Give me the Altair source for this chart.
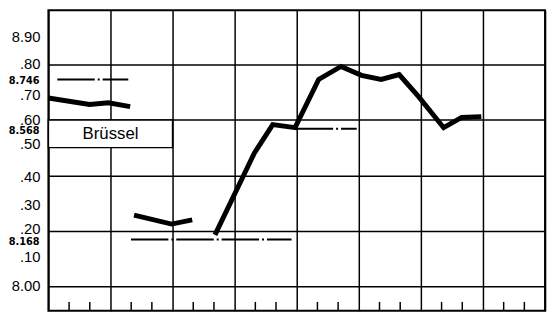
import altair as alt
import pandas as pd

# ---- data ----
seg1_month = [0.0, 1.99, 2.90, 3.95]
seg1_value = [8.679, 8.656, 8.662, 8.648]
seg2_month = [4.14, 5.95, 6.95]
seg2_value = [8.256, 8.224, 8.239]
seg3_month = [8.05, 9.95, 10.84, 11.92, 13.06, 14.14, 15.13, 16.08, 16.95, 17.90, 19.10, 19.97, 20.92]
seg3_value = [8.185, 8.480, 8.583, 8.572, 8.746, 8.793, 8.761, 8.746, 8.764, 8.683, 8.572, 8.609, 8.612]

ref_values = [8.746, 8.568, 8.168]
ref_labels = ["8.746", "8.568", "8.168"]
ref_start = [0.43, 11.95, 3.99]
ref_end = [3.86, 14.90, 11.75]

y_ticks = [8.0, 8.1, 8.2, 8.3, 8.4, 8.5, 8.6, 8.7, 8.8, 8.9]
y_tick_labels = ["8.00", ".10", ".20", ".30", ".40", ".50", ".60", ".70", ".80", "8.90"]
grid_months = [0, 3, 6, 9, 12, 15, 18, 21, 24]
minor_months = [m for m in range(1, 24) if m % 3 != 0]

box_start = [0]
box_end = [6]
box_low = [8.50]
box_high = [8.60]
box_text = ["Brüssel"]

# style: small vertical nudges (px) of some tick labels, as in the original print
label_nudge = {".70": 3, ".40": 2, ".30": 2, ".50": -4, ".20": -2, ".10": -1}

# ---- tables ----
line_df = pd.DataFrame({
    "month": seg1_month + seg2_month + seg3_month,
    "value": seg1_value + seg2_value + seg3_value,
    "seg": ["a"] * len(seg1_month) + ["b"] * len(seg2_month) + ["c"] * len(seg3_month),
})
ref_df = pd.DataFrame({"value": ref_values, "label": ref_labels, "start": ref_start, "end": ref_end})
minor_df = pd.DataFrame({"month": minor_months})
box_df = pd.DataFrame({"m0": box_start, "m1": box_end, "lo": box_low, "hi": box_high, "text": box_text})
tick_df = pd.DataFrame({"value": y_ticks, "label": y_tick_labels})
tick_df["nudge"] = [label_nudge.get(l, 0) for l in y_tick_labels]

x_scale = alt.Scale(domain=[0, 24], nice=False, zero=False)
y_scale = alt.Scale(domain=[7.911, 8.996], nice=False, zero=False)

x_enc = alt.X("month:Q", scale=x_scale,
              axis=alt.Axis(values=grid_months, grid=True, labels=False, ticks=False,
                            domain=False, title=None))
y_enc = alt.Y("value:Q", scale=y_scale,
              axis=alt.Axis(values=y_ticks, grid=True, ticks=False, domain=False, title=None,
                            labels=False))

lines = alt.Chart(line_df).mark_line(color="black", strokeWidth=5).encode(
    x=x_enc, y=y_enc, detail="seg:N"
)

refs = alt.Chart(ref_df).mark_rule(color="black", strokeWidth=2, strokeDash=[38, 3, 2, 3]).encode(
    x=alt.X("start:Q", scale=x_scale), x2="end:Q", y=alt.Y("value:Q", scale=y_scale)
)

ref_text = alt.Chart(ref_df).mark_text(
    align="right", baseline="middle", fontSize=11, fontWeight="bold", dy=2,
    font="Liberation Sans Narrow, DejaVu Sans Condensed", color="black"
).encode(x=alt.value(-9), y=alt.Y("value:Q", scale=y_scale), text="label:N")

tick_layers = []
for n in sorted(set(tick_df["nudge"])):
    tick_layers.append(
        alt.Chart(tick_df).transform_filter(f"datum.nudge == {n}").mark_text(
            align="right", baseline="middle", fontSize=15, font="Liberation Sans",
            color="black", dy=n
        ).encode(x=alt.value(-8), y=alt.Y("value:Q", scale=y_scale), text="label:N")
    )

minor = alt.Chart(minor_df).mark_rule(color="black", strokeWidth=1.5).encode(
    x=alt.X("month:Q", scale=x_scale), y=alt.value(305), y2=alt.value(296)
)

box = alt.Chart(box_df).mark_rect(fill="white", stroke="black", strokeWidth=1.5).encode(
    x=alt.X("m0:Q", scale=x_scale), x2="m1:Q", y=alt.Y("lo:Q", scale=y_scale), y2="hi:Q"
)

box_label = alt.Chart(box_df).transform_calculate(
    mx="(datum.m0 + datum.m1) / 2", my="(datum.lo + datum.hi) / 2"
).mark_text(fontSize=17, font="Liberation Sans", color="black", baseline="middle").encode(
    x=alt.X("mx:Q", scale=x_scale), y=alt.Y("my:Q", scale=y_scale), text="text:N"
)

chart = alt.layer(lines, box, box_label, refs, ref_text, minor, *tick_layers).properties(
    width=504, height=305,
    padding={"left": 41, "top": 0, "right": 3, "bottom": 2},
    autosize="none",
).configure_view(
    stroke="black", strokeWidth=2
).configure_axis(
    gridColor="black", gridWidth=1.5, gridOpacity=1
)

chart.save("out.html", embed_options={"renderer": "svg", "actions": False})
